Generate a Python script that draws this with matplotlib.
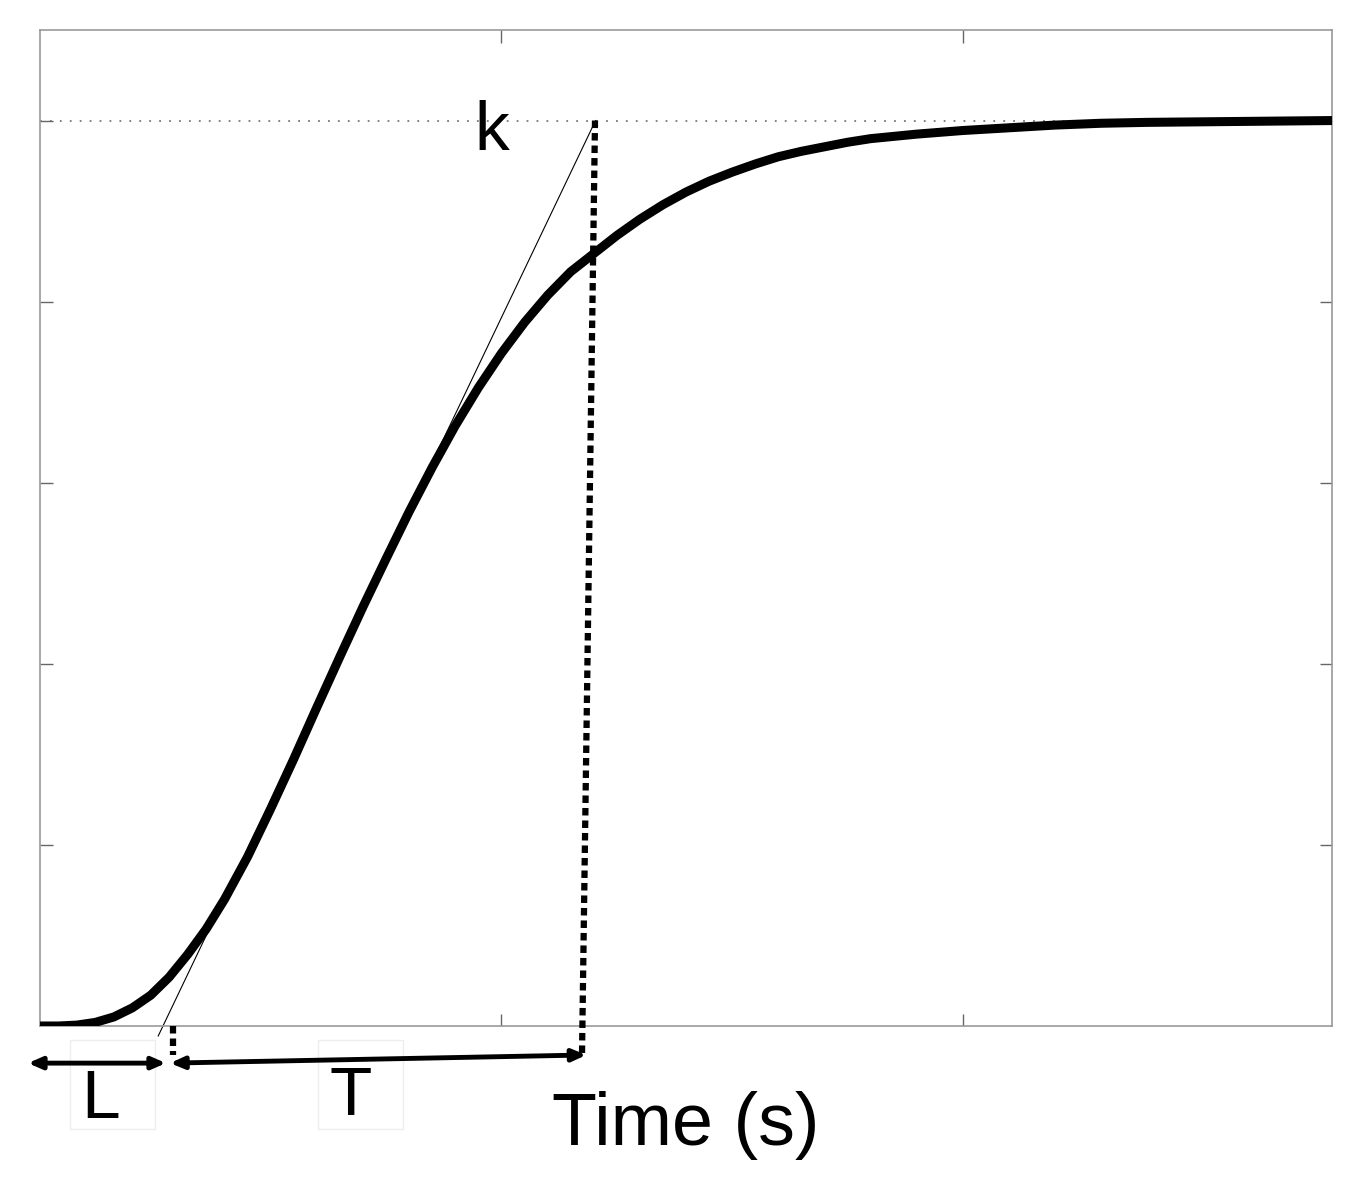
import matplotlib
matplotlib.use('Agg')
import matplotlib.pyplot as plt
from matplotlib.patches import Rectangle

plt.rcParams['font.family'] = ['Liberation Sans', 'DejaVu Sans']

# step response (time in s, normalised output)
time_s = [0.0, 0.2, 0.4, 0.6, 0.8, 1.0, 1.2, 1.4, 1.6, 1.8,
          2.0, 2.25, 2.5, 2.75, 3.0, 3.25, 3.5, 3.75, 4.0, 4.25,
          4.5, 4.75, 5.0, 5.25, 5.5, 5.75, 6.0, 6.25, 6.5, 6.75,
          7.0, 7.25, 7.5, 7.75, 8.0, 8.25, 8.5, 8.75, 9.0, 9.5,
          10.0, 10.5, 11.0, 11.5, 12.0, 13.0, 14.0]
response = [0.0, 0.0, 0.001, 0.004, 0.010, 0.020, 0.034, 0.054, 0.079, 0.107,
            0.140, 0.187, 0.240, 0.295, 0.352, 0.408, 0.463, 0.516, 0.568, 0.617,
            0.663, 0.705, 0.743, 0.777, 0.807, 0.833, 0.853, 0.873, 0.891, 0.907,
            0.921, 0.933, 0.943, 0.952, 0.960, 0.966, 0.971, 0.976, 0.980, 0.985,
            0.989, 0.992, 0.995, 0.997, 0.998, 0.999, 1.0]

k_gain = 1.0
L_end = 1.333          # where the tangent crosses zero
T_end = 6.02           # where the tangent reaches k
tangent_t = [1.281, T_end]
tangent_y = [-0.011, k_gain]

fig = plt.figure(figsize=(13.68, 11.97), dpi=100)
ax = fig.add_axes([40 / 1368, 1 - 1026 / 1197, 1292 / 1368, 996 / 1197])

ax.plot(time_s, response, color='black', lw=6.5, solid_capstyle='butt',
        solid_joinstyle='round', zorder=3)
ax.axhline(k_gain, color='#777777', lw=1.3, ls=(0, (1, 4.5)), zorder=1)
ax.plot(tangent_t, tangent_y, color='black', lw=0.8, zorder=2, clip_on=False)

# dashed drops below the axis
ax.plot([6.014, 5.873], [k_gain, -0.032], color='black', lw=4.5,
        ls=(0, (1.2, 0.8)), clip_on=False, zorder=4)
ax.plot([1.441, 1.441], [0.0, -0.032], color='black', lw=4.5,
        ls=(0, (1.2, 0.8)), clip_on=False, zorder=4)

arrow = dict(arrowstyle='<|-|>,head_length=0.8,head_width=0.35', color='black',
             lw=3.5, shrinkA=0, shrinkB=0)
ax.annotate('', xy=(-0.13, -0.041), xytext=(1.365, -0.041),
            arrowprops=arrow, annotation_clip=False)
ax.annotate('', xy=(1.41, -0.041), xytext=(5.92, -0.032),
            arrowprops=arrow, annotation_clip=False)

# faint boxes round the L and T labels
for x0, x1 in [(0.325, 1.246), (3.012, 3.933)]:
    ax.add_patch(Rectangle((x0, -0.114), x1 - x0, 0.099, fill=False,
                           ec='#eeeeee', lw=1, clip_on=False))

ax.text(0.66, -0.102, 'L', fontsize=50, ha='center', va='baseline', clip_on=False)
ax.text(3.37, -0.098, 'T', fontsize=50, ha='center', va='baseline', clip_on=False)
ax.text(4.89, 0.967, 'k', fontsize=50, ha='center', va='baseline')
ax.text(7.0, -0.131, 'Time (s)', fontsize=53, ha='center', va='baseline',
        clip_on=False)

ax.set_xlim(0, 14)
ax.set_ylim(0, 1.1)
ax.set_xticks([5, 10])
ax.set_yticks([0.2, 0.4, 0.6, 0.8, 1.0])
ax.tick_params(direction='in', length=9, width=1, color='#666666',
               top=True, right=True, labelbottom=False, labelleft=False)
for s in ax.spines.values():
    s.set_color('#999999')
    s.set_linewidth(1.2)

fig.savefig('out.png', dpi=100)
